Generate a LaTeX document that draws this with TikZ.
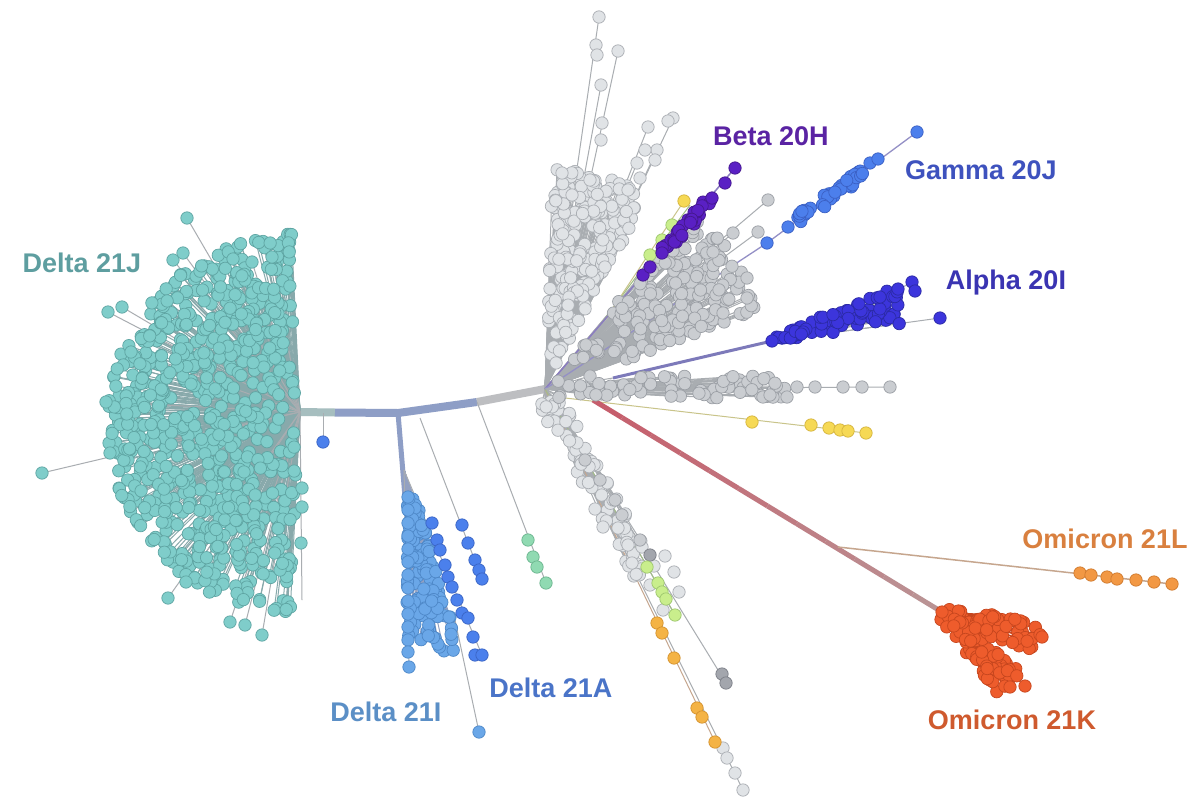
\documentclass[tikz,border=0pt]{standalone}
\usepackage{fontspec}
\setmainfont{Liberation Sans}
\usetikzlibrary{calc}

% clade colours
\definecolor{deltaJFill}{HTML}{7FCDCA}\definecolor{deltaJEdge}{HTML}{5FA5A3}\definecolor{deltaJText}{HTML}{5E9EA0}
\definecolor{deltaIFill}{HTML}{6AA7E8}\definecolor{deltaIEdge}{HTML}{4E88C8}\definecolor{deltaIText}{HTML}{5B8FC6}
\definecolor{deltaAFill}{HTML}{4B80EC}\definecolor{deltaAEdge}{HTML}{3A64C4}\definecolor{deltaAText}{HTML}{4A74C8}
\definecolor{greenFill}{HTML}{90DAB2}\definecolor{greenEdge}{HTML}{6BB58E}
\definecolor{paleFill}{HTML}{E0E3E6}\definecolor{paleEdge}{HTML}{AAAEB3}
\definecolor{midFill}{HTML}{CACDD1}\definecolor{midEdge}{HTML}{9B9FA5}
\definecolor{darkFill}{HTML}{A3A6AD}\definecolor{darkEdge}{HTML}{7C7F87}
\definecolor{betaFill}{HTML}{5A20C4}\definecolor{betaEdge}{HTML}{45188F}\definecolor{betaText}{HTML}{5A23A3}
\definecolor{gammaFill}{HTML}{4C7FEC}\definecolor{gammaEdge}{HTML}{3B60C4}\definecolor{gammaText}{HTML}{3E52BE}
\definecolor{alphaFill}{HTML}{3C35DC}\definecolor{alphaEdge}{HTML}{2B2AA5}\definecolor{alphaText}{HTML}{3A34B2}
\definecolor{yellowFill}{HTML}{F6D955}\definecolor{yellowEdge}{HTML}{D4B43E}
\definecolor{limeFill}{HTML}{C9EE8C}\definecolor{limeEdge}{HTML}{9DC66E}
\definecolor{goldFill}{HTML}{F4B345}\definecolor{goldEdge}{HTML}{D4922E}
\definecolor{orangeFill}{HTML}{F29844}\definecolor{orangeEdge}{HTML}{D07A2E}\definecolor{orangeText}{HTML}{D9803F}
\definecolor{omiFill}{HTML}{EE5C2C}\definecolor{omiEdge}{HTML}{C6461E}\definecolor{omiText}{HTML}{CF5A2E}
% branch colours
\definecolor{twiggray}{HTML}{A9ADB1}
\definecolor{trunkBlue}{HTML}{8E9EC6}
\definecolor{trunkTeal}{HTML}{A6BEBF}
\definecolor{trunkGray}{HTML}{BDBEC1}
\definecolor{redA}{HTML}{C65E6C}
\definecolor{redC}{HTML}{B89A9A}
\definecolor{alphaLine}{HTML}{7D7ABA}
\definecolor{betaLine}{HTML}{8A7CC0}
\definecolor{gammaLine}{HTML}{9490C6}
\definecolor{yellowLine}{HTML}{C9C48A}
\definecolor{tanLine}{HTML}{C6A68E}

\tikzset{
  twig/.style={draw=twiggray, line width=1pt},
  leaf/.style={line width=0.7pt, draw=#1Edge, fill=#1Fill},
  clade/.style={font=\bfseries\fontsize{27}{32}\selectfont, text=#1},
}

% random clades, same seed for the twig pass and the dot pass
\newcommand\deltaJpts[1]{%
  \pgfmathsetseed{21}%
  \foreach \i in {1,...,760}{%
    \pgfmathsetmacro\ang{92+176*rnd}%
    \pgfmathsetmacro\rad{(190-12*sin(\ang))*(0.06+0.94*sqrt(rnd))}%
    \pgfmathsetmacro\px{298+\rad*cos(\ang)}%
    \pgfmathsetmacro\py{412-\rad*sin(\ang)}%
    #1}}
\newcommand\deltaIpts[1]{%
  \pgfmathsetseed{5}%
  \foreach \i in {1,...,130}{%
    \pgfmathsetmacro\v{rnd}%
    \pgfmathsetmacro\py{497+155*\v}%
    \pgfmathsetmacro\px{407+(8+46*\v)*rnd}%
    #1}}
\newcommand\greyUpPts[1]{%
  \pgfmathsetseed{8}%
  \foreach \i in {1,...,240}{%
    \pgfmathsetmacro\ang{62+26*rnd}%
    \pgfmathsetmacro\rad{20+200*sqrt(rnd)}%
    \pgfmathsetmacro\px{545+\rad*cos(\ang)}%
    \pgfmathsetmacro\py{389-\rad*sin(\ang)}%
    #1}}
\newcommand\greyMidPts[1]{%
  \pgfmathsetseed{9}%
  \foreach \i in {1,...,190}{%
    \pgfmathsetmacro\ang{20+30*rnd}%
    \pgfmathsetmacro\rad{25+205*sqrt(rnd)}%
    \pgfmathsetmacro\px{545+\rad*cos(\ang)}%
    \pgfmathsetmacro\py{389-\rad*sin(\ang)}%
    #1}}
\newcommand\greyFlatPts[1]{%
  \pgfmathsetseed{10}%
  \foreach \i in {1,...,70}{%
    \pgfmathsetmacro\px{555+235*rnd}%
    \pgfmathsetmacro\py{387+11*rand}%
    #1}}
\newcommand\greyLowPts[1]{%
  \pgfmathsetseed{12}%
  \foreach \i in {1,...,70}{%
    \pgfmathsetmacro\t{rnd}%
    \pgfmathsetmacro\j{12*rand}%
    \pgfmathsetmacro\px{548+100*\t+0.874*\j}%
    \pgfmathsetmacro\py{398+180*\t-0.486*\j}%
    #1}}
\newcommand\betaPts[1]{%
  \pgfmathsetseed{2}%
  \foreach \i in {1,...,34}{%
    \pgfmathsetmacro\t{rnd}%
    \pgfmathsetmacro\j{4*rand}%
    \pgfmathsetmacro\px{660+52*\t+0.744*\j}%
    \pgfmathsetmacro\py{256-58*\t+0.668*\j}%
    #1}}
\newcommand\gammaPts[1]{%
  \pgfmathsetseed{4}%
  \foreach \i in {1,...,40}{%
    \pgfmathsetmacro\t{rnd}%
    \pgfmathsetmacro\j{5*rand}%
    \pgfmathsetmacro\px{790+75*\t+0.581*\j}%
    \pgfmathsetmacro\py{226-54*\t+0.814*\j}%
    #1}}
\newcommand\alphaPts[1]{%
  \pgfmathsetseed{6}%
  \foreach \i in {1,...,85}{%
    \pgfmathsetmacro\t{rnd}%
    \pgfmathsetmacro\px{774+128*\t}%
    \pgfmathsetmacro\py{340-12*\t-(2+46*\t)*rnd}%
    #1}}
\newcommand\omiKPts[1]{%
  \pgfmathsetseed{3}%
  \foreach \i in {1,...,130}{%
    \pgfmathsetmacro\t{rnd}%
    \pgfmathsetmacro\j{(6+10*\t)*rand}%
    \pgfmathsetmacro\k{rnd<0.5}%
    \pgfmathsetmacro\px{944+\t*(66+32*\k)+\j*(0.745-1.006*\k)}%
    \pgfmathsetmacro\py{614+\t*(70-46*\k)+\j*(-0.667+1.632*\k)}%
    #1}}

\begin{document}
\begin{tikzpicture}[x=1pt,y=-1pt]
  \useasboundingbox (0,0) rectangle (1200,809);
  \fill[white] (0,0) rectangle (1200,809);

  % branch points
  \coordinate (jroot) at (300,412);
  \coordinate (iroot) at (398,413);
  \coordinate (groot) at (477,402);
  \coordinate (hub) at (545,389);
  \coordinate (iclade) at (404,470);
  \coordinate (redstart) at (593,400);
  \coordinate (kroot) at (942,612);
  \coordinate (lfork) at (838,547);

  % trunk
  \draw[line width=8pt, trunkTeal] (jroot) -- (335,412.5);
  \draw[line width=8pt, trunkBlue, line join=round] (335,412.5) -- (iroot) -- (groot);
  \draw[line width=8pt, trunkGray] (groot) -- (hub);
  \draw[line width=5pt, trunkBlue] (iroot) -- (405,497);

  % twigs
  \deltaJpts{\draw[twig, draw=deltaJEdge!45!twiggray] (jroot) -- (\px,\py);}
  \foreach \x/\y in {187/218,173/260,183/253,108/312,122/307,131/352,42/473,106/402,110/453,
    233/259,252/262,272/257,168/598,186/582,230/622,262/635,245/625,302/600}
    \draw[twig] (jroot) -- (\x,\y);
  \draw[twig] (323,413) -- (323,442);
  \deltaIpts{\draw[twig, draw=trunkBlue!80!twiggray] (iclade) -- (\px,\py);}
  \draw[twig] (iclade) -- (409,667);
  \draw[twig] (iclade) -- (482,655);
  \draw[twig] (455,620) -- (479,732);
  \draw[twig] (420,418) -- (482,579);
  \draw[twig] (groot) -- (546,583);
  \greyUpPts{\draw[twig] (hub) -- (\px,\py);}
  \foreach \x/\y in {599/17,618/51,601/85,648/127,673/118,562/173,637/163,657/150}
    \draw[twig] (hub) -- (\x,\y);
  \greyMidPts{\draw[twig] (hub) -- (\px,\py);}
  \foreach \x/\y in {768/200,758/232,733/233,713/252,747/278,747/298,723/313}
    \draw[twig] (hub) -- (\x,\y);
  \greyFlatPts{\draw[twig] (hub) -- (\px,\py);}
  \draw[twig] (hub) -- (890,387);
  \greyLowPts{\draw[twig] (hub) -- (\px,\py);}
  \foreach \x/\y in {743/790,726/683,675/615}
    \draw[twig] (hub) -- (\x,\y);
  \draw[twig, draw=tanLine] (hub) -- (715,742);
  \draw[twig, draw=limeEdge!60!twiggray] (hub) -- (675,615);
  \draw[twig, draw=yellowLine] (548,396) -- (866,433);
  \draw[twig, draw=limeEdge!70!twiggray] (600,325) -- (690,205);
  \draw[twig, draw=yellowLine] (605,320) -- (684,201);
  \draw[twig, draw=betaLine, line width=1.5pt] (hub) -- (735,168);
  \draw[twig, draw=gammaLine, line width=1.3pt] (hub) -- (767,243) -- (917,132);
  \draw[twig] (hub) -- (613,378);
  \draw[line width=3pt, alphaLine] (613,378) -- (772,341);
  \alphaPts{\draw[twig] (772,341) -- (\px,\py);}
  \draw[twig] (772,341) -- (912,283);
  \draw[twig] (772,341) -- (940,318);
  \foreach \k in {0,...,11}{
    \pgfmathsetmacro\mix{100-\k*8}
    \draw[line width=5pt, redA!\mix!redC] ($(redstart)!\k/12!(kroot)$) -- ($(redstart)!\k/12+1/12!(kroot)$);
  }
  \draw[twig, draw=tanLine, line width=1.5pt] (lfork) -- (1172,584);
  \omiKPts{\draw[twig, draw=omiEdge] (kroot) -- (\px,\py);}
  \draw[twig] (990,650) -- (1025,686);

  % Delta 21J
  \deltaJpts{\filldraw[leaf=deltaJ] (\px,\py) circle (6.2pt);}
  \foreach \x/\y in {187/218,173/260,183/253,108/312,122/307,131/352,42/473,106/402,110/453,
    233/259,252/262,272/257,168/598,186/582,230/622,262/635,245/625,302/488,302/507,301/543}
    \filldraw[leaf=deltaJ] (\x,\y) circle (6.2pt);
  \filldraw[leaf=deltaA] (323,442) circle (6.2pt);

  % Delta 21I and 21A
  \deltaIpts{\filldraw[leaf=deltaI] (\px,\py) circle (6.2pt);}
  \foreach \y in {497,510,523,536,549,562,575,588,601,614,627,640,652}
    \filldraw[leaf=deltaI] (408,\y) circle (6.2pt);
  \foreach \x/\y in {409/667,479/732}
    \filldraw[leaf=deltaI] (\x,\y) circle (6.2pt);
  \foreach \x/\y in {432/523,437/540,440/550,445/565,448/577,452/587,457/600,462/613,468/618,
    473/637,475/655,482/655,462/525,468/543,475/560,479/570,482/579}
    \filldraw[leaf=deltaA] (\x,\y) circle (6.2pt);
  \foreach \x/\y in {528/540,533/557,537/567,546/583}
    \filldraw[leaf=green] (\x,\y) circle (6.2pt);

  % grey clades round the hub
  \greyLowPts{\filldraw[leaf=pale] (\px,\py) circle (6.2pt);}
  \foreach \x/\y in {723/748,727/758,735/773,743/790,632/563,650/585,663/610,674/572,679/592,
    665/556,642/547,628/545,603/527,595/509,618/528,613/500}
    \filldraw[leaf=pale] (\x,\y) circle (6.2pt);
  \foreach \x/\y in {585/460,600/480,615/500,622/515,640/540}
    \filldraw[leaf=mid] (\x,\y) circle (6.2pt);
  \foreach \x/\y in {650/555,722/674,726/683}
    \filldraw[leaf=dark] (\x,\y) circle (6.2pt);
  \foreach \x/\y in {647/567,658/583,662/592,666/599,675/615}
    \filldraw[leaf=lime] (\x,\y) circle (6.2pt);
  \foreach \x/\y in {657/623,662/633,674/658,697/708,702/717,715/742}
    \filldraw[leaf=gold] (\x,\y) circle (6.2pt);
  \greyUpPts{\filldraw[leaf=pale] (\px,\py) circle (6.2pt);}
  \foreach \x/\y in {599/17,618/51,601/85,648/127,673/118,562/173,637/163,657/150,596/45,597/55,
    602/123,601/140,645/150,655/160,628/190,640/178,668/121,572/195,590/180}
    \filldraw[leaf=pale] (\x,\y) circle (6.2pt);
  \greyMidPts{\filldraw[leaf=mid] (\px,\py) circle (6.2pt);}
  \foreach \x/\y in {768/200,758/232,733/233,713/252,747/278,747/298,723/313}
    \filldraw[leaf=mid] (\x,\y) circle (6.2pt);
  \greyFlatPts{\filldraw[leaf=mid] (\px,\py) circle (6.2pt);}
  \foreach \x/\y in {797/387,815/387,843/387,862/387,890/387,787/397,770/395}
    \filldraw[leaf=mid] (\x,\y) circle (6.2pt);

  % Beta, Gamma, Alpha
  \foreach \x/\y in {650/255,662/240,672/225}
    \filldraw[leaf=lime] (\x,\y) circle (6.2pt);
  \filldraw[leaf=yellow] (684,201) circle (6.2pt);
  \betaPts{\filldraw[leaf=beta] (\px,\py) circle (6.2pt);}
  \foreach \x/\y in {643/275,650/267,662/253,712/198,725/183,735/168}
    \filldraw[leaf=beta] (\x,\y) circle (6.2pt);
  \gammaPts{\filldraw[leaf=gamma] (\px,\py) circle (6.2pt);}
  \foreach \x/\y in {767/243,788/227,870/163,878/159,917/132}
    \filldraw[leaf=gamma] (\x,\y) circle (6.2pt);
  \alphaPts{\filldraw[leaf=alpha] (\px,\py) circle (6.2pt);}
  \foreach \x/\y in {772/341,880/297,898/289,912/282,915/291,940/318}
    \filldraw[leaf=alpha] (\x,\y) circle (6.2pt);

  % yellow and Omicron
  \foreach \x/\y in {752/422,811/425,829/428,840/430,848/431,866/433}
    \filldraw[leaf=yellow] (\x,\y) circle (6.2pt);
  \foreach \x/\y in {1080/573,1091/575,1107/577,1117/579,1136/580,1154/582,1172/584}
    \filldraw[leaf=orange] (\x,\y) circle (6.2pt);
  \omiKPts{\filldraw[leaf=omi] (\px,\py) circle (6.2pt);}
  \foreach \x/\y in {942/612,1025/686,1042/637,1010/687}
    \filldraw[leaf=omi] (\x,\y) circle (6.2pt);

  % clade labels
  \node[clade=deltaJText] (deltaJ) at (82,263) {Delta 21J};
  \node[clade=deltaIText] (deltaI) at (386,712) {Delta 21I};
  \node[clade=deltaAText] (deltaA) at (551,688) {Delta 21A};
  \node[clade=betaText] (beta) at (771,136) {Beta 20H};
  \node[clade=gammaText] (gamma) at (981,170) {Gamma 20J};
  \node[clade=alphaText] (alpha) at (1006,283) {Alpha 20I};
  \node[clade=orangeText] (omiL) at (1105,539) {Omicron 21L};
  \node[clade=omiText] (omiK) at (1012,720) {Omicron 21K};
\end{tikzpicture}
\end{document}
